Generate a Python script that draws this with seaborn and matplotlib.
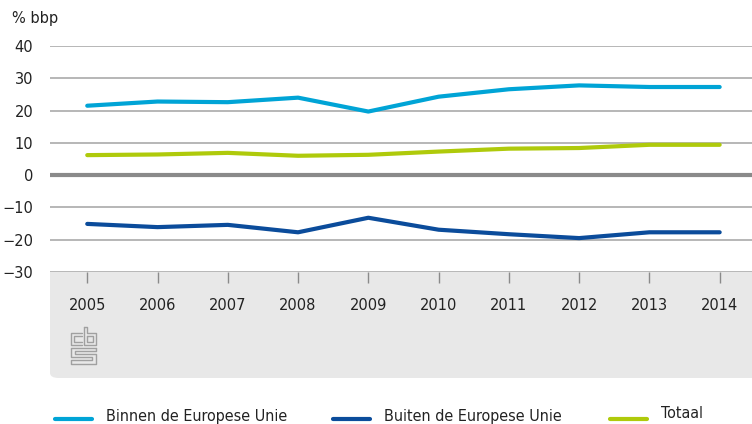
import matplotlib
matplotlib.use('Agg')
import matplotlib.pyplot as plt
from matplotlib.patches import FancyBboxPatch
from matplotlib.lines import Line2D
import seaborn as sns
import pandas as pd

jaren = [2005, 2006, 2007, 2008, 2009, 2010, 2011, 2012, 2013, 2014]
binnen_eu = [21.5, 22.8, 22.6, 24.0, 19.7, 24.3, 26.6, 27.8, 27.3, 27.3]
buiten_eu = [-15.1, -16.1, -15.4, -17.7, -13.2, -16.9, -18.3, -19.5, -17.7, -17.7]
totaal = [6.2, 6.4, 6.9, 6.0, 6.3, 7.3, 8.2, 8.4, 9.4, 9.4]
reeksen = ['Binnen de Europese Unie', 'Buiten de Europese Unie', 'Totaal']
kleuren = ['#00a4d6', '#0b4c9b', '#afca0b']
y_ticks = [-30, -20, -10, 0, 10, 20, 30, 40]

df = pd.concat([
    pd.DataFrame({'Jaar': jaren, 'Waarde': binnen_eu, 'Reeks': reeksen[0]}),
    pd.DataFrame({'Jaar': jaren, 'Waarde': buiten_eu, 'Reeks': reeksen[1]}),
    pd.DataFrame({'Jaar': jaren, 'Waarde': totaal, 'Reeks': reeksen[2]}),
])

W, H = 752, 424
sns.set_style('white')
plt.rcParams['font.family'] = ['DejaVu Sans']
tekst_kleur = '#222222'


def fx(px):
    return px / W


def fy(py):
    return 1 - py / H


fig = plt.figure(figsize=(W / 100, H / 100), dpi=100)
ax = fig.add_axes([fx(50), fy(272), 1 - fx(50), 226 / H])

# grijze onderbalk
balk = FancyBboxPatch((fx(50), fy(378)), 760 / W, 120 / H,
                      boxstyle='round,pad=0,rounding_size=0.012',
                      transform=fig.transFigure, facecolor='#e8e8e8',
                      edgecolor='none', zorder=-1)
fig.patches.append(balk)

for t in y_ticks:
    if t == 0:
        ax.axhline(t, color='#8a8a8a', linewidth=3, zorder=1)
    else:
        ax.axhline(t, color='#a3a3a3', linewidth=1.1, zorder=1)

sns.lineplot(data=df, x='Jaar', y='Waarde', hue='Reeks', palette=kleuren,
             linewidth=3, ax=ax, zorder=3, legend=False)

ax.set_xlim(2004.47, 2014.46)
ax.set_ylim(-30, 40)
ax.set_yticks(y_ticks)
ax.set_yticklabels([str(t).replace('-', '\u2212') for t in y_ticks])
ax.set_xticks(jaren)
ax.set_xticklabels([str(j) for j in jaren])
ax.tick_params(axis='y', left=False, length=0, pad=12, labelsize=10.5, labelcolor=tekst_kleur)
ax.tick_params(axis='x', bottom=True, length=8, width=1, color='#8a8a8a', direction='out',
               pad=11, labelsize=10.5, labelcolor=tekst_kleur)
ax.set_xlabel('')
ax.set_ylabel('')
for s in ax.spines.values():
    s.set_visible(False)
ax.set_facecolor('white')

fig.text(fx(12), fy(18), '% bbp', fontsize=10.5, color=tekst_kleur,
         va='center', ha='left')

# cbs logo als lijntjes
logo_kleur = '#a0a0a0'
logo_paden = [
    [(82, 333), (71, 333), (71, 345), (82, 345)],
    [(82, 336), (74, 336), (74, 342), (82, 342)],
    [(84, 327), (84, 345), (96, 345), (96, 333), (87, 333), (87, 327), (84, 327)],
    [(87, 336), (93, 336), (93, 342), (87, 342), (87, 336)],
    [(96, 348), (71, 348), (71, 357), (92, 357), (92, 360), (71, 360), (71, 364),
     (96, 364), (96, 354), (75, 354), (75, 351), (96, 351), (96, 348)],
]
for pad in logo_paden:
    fig.add_artist(Line2D([fx(p[0]) for p in pad], [fy(p[1]) for p in pad],
                          color=logo_kleur, linewidth=1.0, transform=fig.transFigure))

# legenda
legenda_x = [55, 333, 610]
legenda_y = [416, 416, 413]
for x0, y0, naam, kleur in zip(legenda_x, legenda_y, reeksen, kleuren):
    fig.add_artist(Line2D([fx(x0), fx(x0 + 37)], [fy(419), fy(419)], color=kleur,
                          linewidth=3, transform=fig.transFigure))
    fig.text(fx(x0 + 51), fy(y0), naam, fontsize=11.5, color=tekst_kleur,
             va='center', ha='left', fontstretch='condensed')

fig.savefig('out.png', dpi=100)
